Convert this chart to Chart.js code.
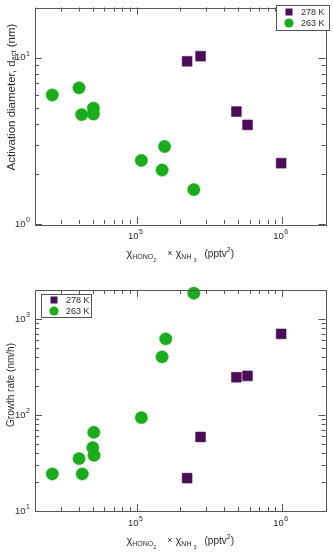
<!DOCTYPE html>
<html>
<head>
<meta charset="utf-8">
<script src="https://cdn.jsdelivr.net/npm/chart.js@4.4.1/dist/chart.umd.min.js"></script>
<style>
  body { margin: 0; background: #fff; }
  canvas { position: absolute; left: 0; }
</style>
</head>
<body>
<canvas id="dactChart" width="333" height="276" style="top:0"></canvas>
<canvas id="growthChart" width="333" height="277" style="top:276px"></canvas>
<script>
// product of mixing ratios (pptv^2)
const dact278X = [2.23e5, 2.76e5, 4.87e5, 5.81e5, 9.9e5];
const dact278 = [9.5, 10.2, 4.74, 3.94, 2.32];
const dact263X = [2.63e4, 4.02e4, 4.19e4, 5.05e4, 5.05e4, 1.08e5, 1.56e5, 1.50e5, 2.48e5];
const dact263 = [5.96, 6.58, 4.54, 4.97, 4.58, 2.41, 2.92, 2.11, 1.61];

const growth278X = [2.23e5, 2.76e5, 4.87e5, 5.81e5, 9.9e5];
const growth278 = [22, 59, 247, 255, 698];
const growth263X = [2.63e4, 4.02e4, 4.23e4, 5.0e4, 5.1e4, 5.08e4, 1.08e5, 1.50e5, 1.59e5, 2.48e5];
const growth263 = [24.3, 35.1, 24.3, 45.7, 38.0, 66, 93.7, 402, 619, 1852];

const seriesLabels = ['278 K', '263 K'];
const xRange = [2e4, 2e6];
const dactRange = [1, 20];
const growthRange = [10, 2000];
const xMajorTicks = [1e5, 1e6];
const dactMajorTicks = [1, 10];
const growthMajorTicks = [10, 100, 1000];

const FONT = '"Liberation Sans", Arial, sans-serif';
const purple = '#4b0c5a';
const green = '#1aac1a';
const axisColor = '#555';
const textColor = '#2b2b2b';

function logTicks(min, max) {
  const out = [];
  for (let e = Math.floor(Math.log10(min)); e <= Math.ceil(Math.log10(max)); e++) {
    for (let m = 1; m <= 9; m++) {
      const v = m * Math.pow(10, e);
      if (v >= min * 0.999 && v <= max * 1.001) out.push(v);
    }
  }
  return out;
}

function isMajor(v, majors) {
  return majors.some(m => Math.abs(v / m - 1) < 1e-6);
}

// draws pieces of text one after another: {t, size, dy, gap}
function drawRich(ctx, parts, x, y, align) {
  let total = 0;
  parts.forEach(p => {
    ctx.font = p.size + 'px ' + FONT;
    p.w = ctx.measureText(p.t).width;
    total += p.w + (p.gap || 0);
  });
  let cx = align === 'right' ? x - total : x - total / 2;
  ctx.textAlign = 'left';
  ctx.textBaseline = 'middle';
  parts.forEach(p => {
    cx += p.gap || 0;
    ctx.font = p.size + 'px ' + FONT;
    ctx.fillText(p.t, cx, y + (p.dy || 0));
    cx += p.w;
  });
}

function powerLabel(v) {
  return [{ t: '10', size: 9.5 }, { t: String(Math.round(Math.log10(v))), size: 7, dy: -4, gap: 0.5 }];
}

const xTitle = [
  { t: 'χ', size: 11 },
  { t: 'HONO', size: 7, dy: 3 },
  { t: '2', size: 5.5, dy: 6 },
  { t: '×', size: 9, gap: 11 },
  { t: 'χ', size: 11, gap: 3 },
  { t: 'NH', size: 7, dy: 3 },
  { t: '3', size: 5.5, dy: 6, gap: 2 },
  { t: '(pptv', size: 10, gap: 8 },
  { t: '2', size: 7, dy: -4 },
  { t: ')', size: 10 }
];

const matlabAxes = {
  id: 'matlabAxes',
  afterDatasetsDraw(chart, args, o) {
    const ctx = chart.ctx;
    const a = chart.chartArea;
    const xs = chart.scales.x, ys = chart.scales.y;
    ctx.save();
    ctx.strokeStyle = axisColor;
    ctx.lineWidth = 1;
    ctx.strokeRect(Math.round(a.left) + 0.5, Math.round(a.top) + 0.5,
      Math.round(a.right - a.left), Math.round(a.bottom - a.top));

    ctx.beginPath();
    xs.ticks.forEach(t => {
      const px = Math.round(xs.getPixelForValue(t.value)) + 0.5;
      const len = isMajor(t.value, o.xMajor) ? 7 : 4;
      ctx.moveTo(px, a.bottom); ctx.lineTo(px, a.bottom - len);
      ctx.moveTo(px, a.top); ctx.lineTo(px, a.top + len);
    });
    ys.ticks.forEach(t => {
      const py = Math.round(ys.getPixelForValue(t.value)) + 0.5;
      const len = isMajor(t.value, o.yMajor) ? 7 : 4;
      ctx.moveTo(a.left, py); ctx.lineTo(a.left + len, py);
      ctx.moveTo(a.right, py); ctx.lineTo(a.right - len, py);
    });
    ctx.stroke();

    ctx.fillStyle = textColor;
    o.xMajor.forEach(v => drawRich(ctx, powerLabel(v), xs.getPixelForValue(v) - 1, a.bottom + 12, 'center'));
    o.yMajor.forEach(v => drawRich(ctx, powerLabel(v), a.left - 5, ys.getPixelForValue(v), 'right'));

    drawRich(ctx, xTitle.map(p => Object.assign({}, p)), (a.left + a.right) / 2, a.bottom + 30, 'center');

    ctx.save();
    ctx.translate(11.5, o.yTitleY);
    ctx.rotate(-Math.PI / 2);
    drawRich(ctx, o.yTitle, 0, 0, 'center');
    ctx.restore();

    // legend box
    const b = o.legendBox;
    ctx.fillStyle = '#fff';
    ctx.fillRect(b.x, b.y, b.w, b.h);
    ctx.strokeRect(Math.round(b.x) + 0.5, Math.round(b.y) + 0.5, b.w, b.h);
    chart.data.datasets.forEach((ds, i) => {
      const ry = b.y + b.h / 2 + (i === 0 ? -5.5 : 5.5);
      const mx = b.x + 13;
      ctx.fillStyle = ds.backgroundColor;
      if (ds.pointStyle === 'rect') {
        ctx.fillRect(mx - 3.5, ry - 3.5, 7, 7);
      } else {
        ctx.beginPath(); ctx.arc(mx, ry, 4.6, 0, Math.PI * 2); ctx.fill();
      }
      ctx.fillStyle = textColor;
      ctx.font = '9px ' + FONT;
      ctx.textAlign = 'left';
      ctx.textBaseline = 'middle';
      ctx.fillText(ds.label, b.x + 25, ry + 0.5);
    });
    ctx.restore();
  }
};

function toPoints(xs, ys) {
  return xs.map((x, i) => ({ x, y: ys[i] }));
}

function makeChart(id, sqX, sqY, ciX, ciY, yRange, yMajor, cfg) {
  return new Chart(document.getElementById(id), {
    type: 'scatter',
    data: {
      datasets: [
        { label: seriesLabels[0], data: toPoints(sqX, sqY), pointStyle: 'rect', pointRadius: 7,
          backgroundColor: purple, borderColor: purple, borderWidth: 0.5 },
        { label: seriesLabels[1], data: toPoints(ciX, ciY), pointStyle: 'circle', pointRadius: 6.2,
          backgroundColor: green, borderColor: green, borderWidth: 0.5 }
      ]
    },
    options: {
      responsive: false,
      animation: false,
      devicePixelRatio: 1,
      clip: false,
      layout: { padding: { top: cfg.top, right: 3, left: 0, bottom: 0 } },
      plugins: {
        legend: { display: false },
        tooltip: { enabled: false },
        matlabAxes: { xMajor: xMajorTicks, yMajor, yTitle: cfg.yTitle, yTitleY: cfg.yTitleY, legendBox: cfg.legendBox }
      },
      scales: {
        x: {
          type: 'logarithmic', min: xRange[0], max: xRange[1],
          afterBuildTicks: s => { s.ticks = logTicks(xRange[0], xRange[1]).map(v => ({ value: v })); },
          afterFit: s => { s.height = cfg.xHeight; },
          ticks: { display: false }, grid: { display: false }, border: { display: false }
        },
        y: {
          type: 'logarithmic', min: yRange[0], max: yRange[1],
          afterBuildTicks: s => { s.ticks = logTicks(yRange[0], yRange[1]).map(v => ({ value: v })); },
          afterFit: s => { s.width = 35; },
          ticks: { display: false }, grid: { display: false }, border: { display: false }
        }
      }
    },
    plugins: [matlabAxes]
  });
}

makeChart('dactChart', dact278X, dact278, dact263X, dact263, dactRange, dactMajorTicks, {
  top: 3, xHeight: 52, yTitleY: 97,
  yTitle: [{ t: 'Activation diameter, d', size: 11.5 }, { t: 'act', size: 7.5, dy: 2 }, { t: ' (nm)', size: 11.5 }],
  legendBox: { x: 276, y: 5, w: 53, h: 25 }
});

makeChart('growthChart', growth278X, growth278, growth263X, growth263, growthRange, growthMajorTicks, {
  top: 14, xHeight: 42, yTitleY: 109,
  yTitle: [{ t: 'Growth rate (nm/h)', size: 10 }],
  legendBox: { x: 41, y: 18, w: 50, h: 23 }
});
</script>
</body>
</html>
